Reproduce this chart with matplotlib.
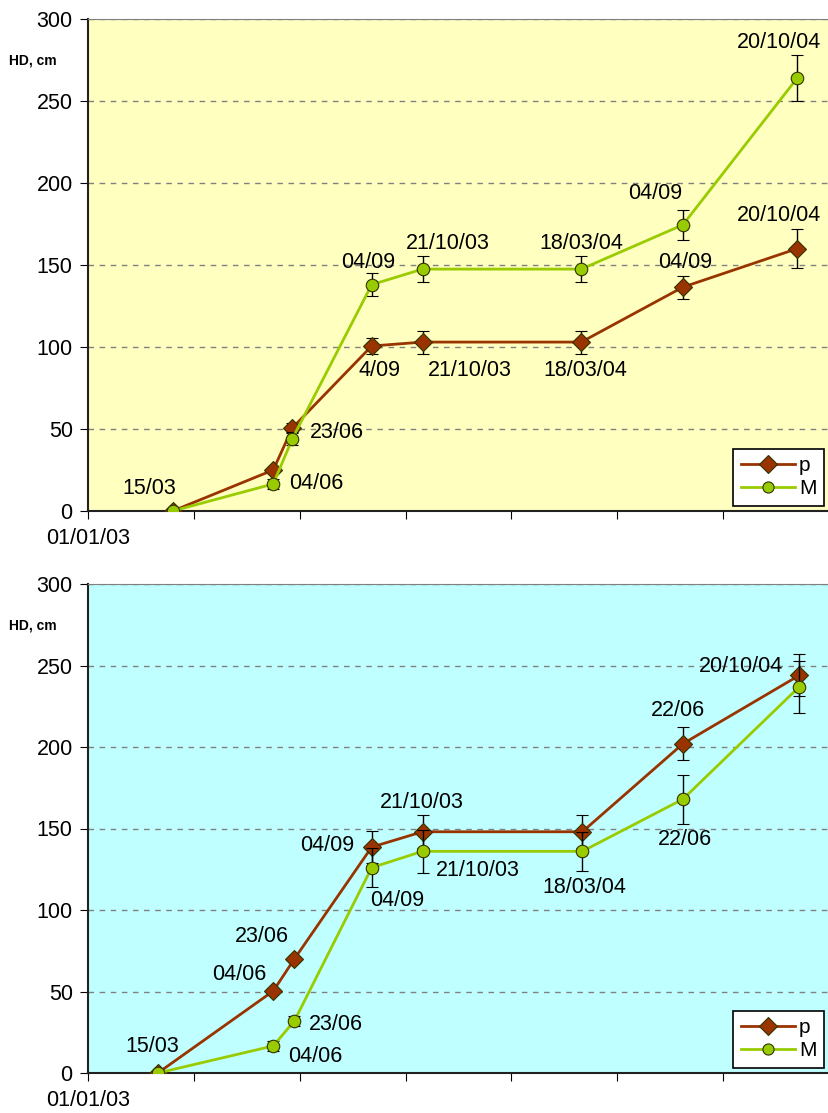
import matplotlib.pyplot as plt
from matplotlib.lines import Line2D

# x positions in days after 01/01/03 (as placed on the chart axis)
x_top = [80, 175, 193, 268, 316, 466, 562, 670]
x_bot = [66, 175, 195, 268, 316, 467, 562, 672]

# top panel
p_top = [0, 25, 50.6, 100.6, 103, 103, 136.5, 160]
p_top_err = [0, 2, 3, 5, 7, 7, 7, 12]
m_top = [0, 16.5, 44, 138, 147.5, 147.5, 174.5, 264]
m_top_err = [0, 3, 4, 7, 8, 8, 9, 14]
p_top_lab = ['15/03', '', '23/06', '4/09', '21/10/03', '18/03/04', '04/09', '20/10/04']
m_top_lab = ['', '04/06', '', '04/09', '21/10/03', '18/03/04', '04/09', '20/10/04']

# bottom panel
p_bot = [0, 50.3, 70, 138.6, 148, 148, 202, 244]
p_bot_err = [0, 2, 2, 10, 10, 10, 10, 13]
m_bot = [0, 16.6, 32, 126, 136, 136, 168, 237]
m_bot_err = [0, 3, 3, 12, 13, 12, 15, 16]
p_bot_lab = ['15/03', '04/06', '23/06', '04/09', '21/10/03', '', '22/06', '20/10/04']
m_bot_lab = ['', '04/06', '23/06', '04/09', '21/10/03', '18/03/04', '22/06', '']

xticks = [0, 100, 200, 300, 400, 500, 600, 700]
xtick_labels = ['01/01/03', '', '', '', '', '', '', '']
yticks = [0, 50, 100, 150, 200, 250, 300]

# label offsets in pixels (text centre relative to point)
p_top_off = [(-23, 23), None, (45, -4), (8, -24), (47, -28), (4, -28), (2, 25), (-18, 33)]
m_top_off = [None, (43, 0), None, (-4, 22), (25, 26), (0, 26), (-28, 31), (-18, 36)]
p_bot_off = [(-6, 27), (-34, 17), (-33, 22), (-45, 2), (-1, 29), None, (-5, 33), (-58, 9)]
m_bot_off = [None, (42, -11), (41, -4), (25, -33), (55, -19), (2, -36), (2, -40), None]

brown = '#993300'
green = '#99CC00'

plt.rcParams['font.family'] = ['Liberation Sans', 'DejaVu Sans']

fig = plt.figure(figsize=(8.29, 11.13), dpi=100)
ax1 = fig.add_axes([88 / 829, 1 - 511 / 1113, 741 / 829, 492 / 1113])
ax2 = fig.add_axes([88 / 829, 1 - 1073 / 1113, 741 / 829, 489 / 1113])

panels = [
    (ax1, '#FFFFC0', x_top, p_top, p_top_err, m_top, m_top_err,
     p_top_lab, m_top_lab, p_top_off, m_top_off),
    (ax2, '#C0FFFF', x_bot, p_bot, p_bot_err, m_bot, m_bot_err,
     p_bot_lab, m_bot_lab, p_bot_off, m_bot_off),
]

for ax, bg, xs, p, pe, m, me, plab, mlab, poff, moff in panels:
    ax.set_facecolor(bg)
    ax.errorbar(xs, p, yerr=pe, color=brown, lw=2, marker='D', ms=9,
                mfc=brown, mec='#333300', mew=0.8, ecolor='black',
                elinewidth=1, capsize=4, capthick=1, zorder=3)
    ax.errorbar(xs, m, yerr=me, color=green, lw=2, marker='o', ms=9,
                mfc=green, mec='#333300', mew=0.8, ecolor='black',
                elinewidth=1, capsize=4, capthick=1, zorder=4)

    for xi, yi, t, off in zip(xs, p, plab, poff):
        if t:
            ax.annotate(t, (xi, yi), xytext=off, textcoords='offset pixels',
                        ha='center', va='center', fontsize=15.5, color='black',
                        zorder=6)
    for xi, yi, t, off in zip(xs, m, mlab, moff):
        if t:
            ax.annotate(t, (xi, yi), xytext=off, textcoords='offset pixels',
                        ha='center', va='center', fontsize=15.5, color='black',
                        zorder=6)

    ax.set_xlim(0, 700)
    ax.set_ylim(0, 300)
    ax.set_xticks(xticks)
    ax.set_xticklabels(xtick_labels, fontsize=15.5)
    ax.set_yticks(yticks)
    ax.tick_params(axis='y', labelsize=15.5, direction='out', length=6, pad=5)
    ax.tick_params(axis='x', direction='out', length=6, pad=6)
    ax.yaxis.grid(True, color='#808080', ls=(0, (4, 4)), lw=1)
    ax.set_axisbelow(True)
    ax.spines['right'].set_visible(False)
    ax.spines['top'].set_color('#808080')
    ax.spines['left'].set_color('#222222')
    ax.spines['bottom'].set_color('#222222')
    ax.spines['left'].set_linewidth(1.5)
    ax.spines['bottom'].set_linewidth(1.5)
    ax.text(-0.107, 0.915, 'HD, cm', transform=ax.transAxes, fontsize=10,
            fontweight='bold', ha='left', va='center')

    handles = [
        Line2D([], [], color=brown, lw=2, marker='D', ms=9, mfc=brown,
               mec='#333300', mew=0.8),
        Line2D([], [], color=green, lw=2, marker='o', ms=8, mfc=green,
               mec='#333300', mew=0.8),
    ]
    leg = ax.legend(handles, ['p', 'M'], loc='lower right', fontsize=15,
                    frameon=True, fancybox=False, edgecolor='black',
                    framealpha=1, borderpad=0.35, handlelength=2.6,
                    labelspacing=0.2, borderaxespad=0.25, handletextpad=0.2)
    leg.get_frame().set_linewidth(1.2)

fig.savefig('out.png', dpi=100)
